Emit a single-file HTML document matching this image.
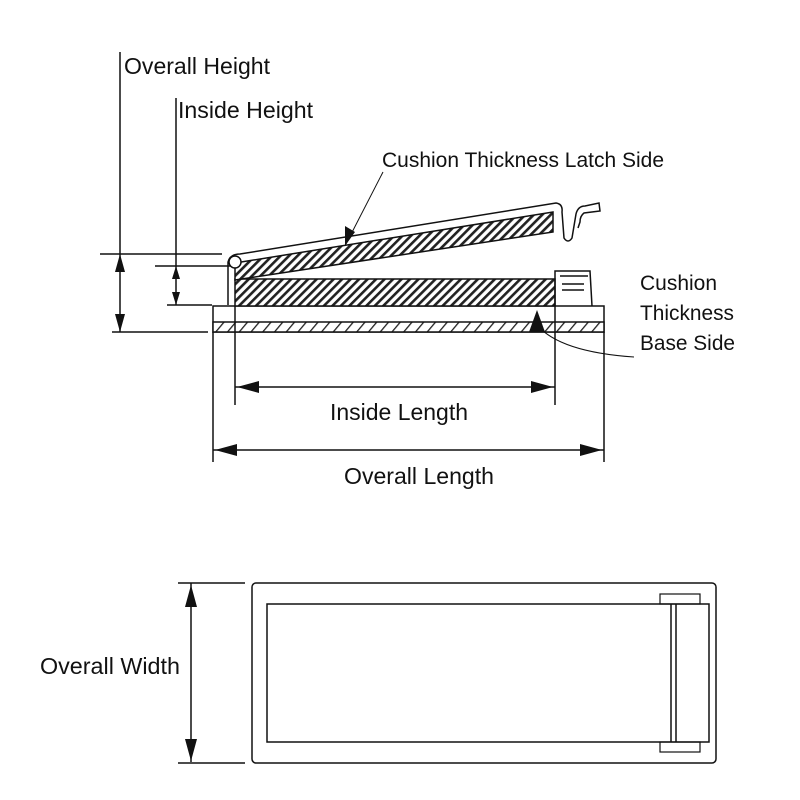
<!DOCTYPE html>
<html><head><meta charset="utf-8"><style>
html,body{margin:0;padding:0;background:#fff;}
svg{display:block;}
text{font-family:"Liberation Sans",sans-serif;fill:#111;}
</style></head><body>
<svg width="800" height="800" viewBox="0 0 800 800" xmlns="http://www.w3.org/2000/svg">
<defs>
<pattern id="h" patternUnits="userSpaceOnUse" width="6" height="6" patternTransform="rotate(45)">
<rect width="6" height="6" fill="#fff"/><rect width="2.6" height="6" fill="#222"/>
</pattern>
<pattern id="h2" patternUnits="userSpaceOnUse" width="9" height="9" patternTransform="rotate(40)">
<rect width="9" height="9" fill="#fff"/><rect width="1.3" height="9" fill="#222"/>
</pattern>
</defs>
<g stroke="#111" fill="none" stroke-width="1.5">
<line x1="120" y1="52" x2="120" y2="332"/>
<line x1="100" y1="254" x2="222" y2="254"/>
<line x1="112" y1="332" x2="208" y2="332"/>
<line x1="176" y1="98" x2="176" y2="305"/>
<line x1="155" y1="266" x2="235" y2="266"/>
<line x1="167" y1="305" x2="212" y2="305"/>
<rect x="213" y="306" width="391" height="26" fill="#fff"/>
<rect x="213" y="322" width="391" height="10" fill="url(#h2)"/>
<line x1="213" y1="332" x2="213" y2="462"/>
<line x1="604" y1="332" x2="604" y2="462"/>
<line x1="235" y1="306" x2="235" y2="405"/>
<line x1="555" y1="306" x2="555" y2="405"/>
<rect x="235" y="279" width="320" height="27" fill="url(#h)"/>
<path d="M555 306 V271 H590 L592 306"/>
<path d="M560 276 H588 M562 284 H584 M562 290 H584"/>
<path d="M235 263 L553 212 L553 232 L235 280 Z" fill="url(#h)"/>
<path d="M228 305 V262 Q230 254 240 254 L556 203 Q563 204 562 212 L564 238 Q568 244 572 238 L576 214 Q578 206 585 206 L599 203 L600 211 L584 213 Q580 216 580 222 L578 228"/>
<circle cx="235" cy="262" r="6" fill="#fff"/>
<line x1="383" y1="172" x2="346" y2="244" stroke-width="1"/>
<path d="M537 325 Q560 352 634 357" stroke-width="1"/>
<line x1="235" y1="387" x2="555" y2="387"/>
<line x1="213" y1="450" x2="604" y2="450"/>
<rect x="252" y="583" width="464" height="180" rx="4"/>
<rect x="267" y="604" width="442" height="138"/>
<line x1="671" y1="604" x2="671" y2="742"/>
<line x1="676" y1="604" x2="676" y2="742"/>
<rect x="660" y="594" width="40" height="10" stroke-width="1.2"/>
<rect x="660" y="742" width="40" height="10" stroke-width="1.2"/>
<line x1="191" y1="583" x2="191" y2="762"/>
<line x1="178" y1="583" x2="245" y2="583"/>
<line x1="178" y1="763" x2="245" y2="763"/>
</g>
<g fill="#111">
<path d="M120 254 l-5 18 h10z M120 332 l-5 -18 h10z"/>
<path d="M176 266 l-4 13 h8z M176 305 l-4 -13 h8z"/>
<path d="M345 246 l0 -20 l10 6z"/>
<path d="M537 310 l-8 22 h16z"/>
<path d="M237 387 l22 -6 v12z M553 387 l-22 -6 v12z"/>
<path d="M215 450 l22 -6 v12z M602 450 l-22 -6 v12z"/>
<path d="M191 585 l-6 22 h12z M191 761 l-6 -22 h12z"/>
</g>
<g font-size="23">
<text x="124" y="74" textLength="146" lengthAdjust="spacingAndGlyphs">Overall Height</text>
<text x="178" y="118" textLength="135" lengthAdjust="spacingAndGlyphs">Inside Height</text>
<text x="382" y="167" font-size="21" textLength="282" lengthAdjust="spacingAndGlyphs">Cushion Thickness Latch Side</text>
<text x="640" y="290" font-size="21" textLength="77" lengthAdjust="spacingAndGlyphs">Cushion</text>
<text x="640" y="320" font-size="21" textLength="94" lengthAdjust="spacingAndGlyphs">Thickness</text>
<text x="640" y="350" font-size="21" textLength="95" lengthAdjust="spacingAndGlyphs">Base Side</text>
<text x="330" y="420" textLength="138" lengthAdjust="spacingAndGlyphs">Inside Length</text>
<text x="344" y="484" textLength="150" lengthAdjust="spacingAndGlyphs">Overall Length</text>
<text x="40" y="674" textLength="140" lengthAdjust="spacingAndGlyphs">Overall Width</text>
</g>
</svg>
</body></html>
